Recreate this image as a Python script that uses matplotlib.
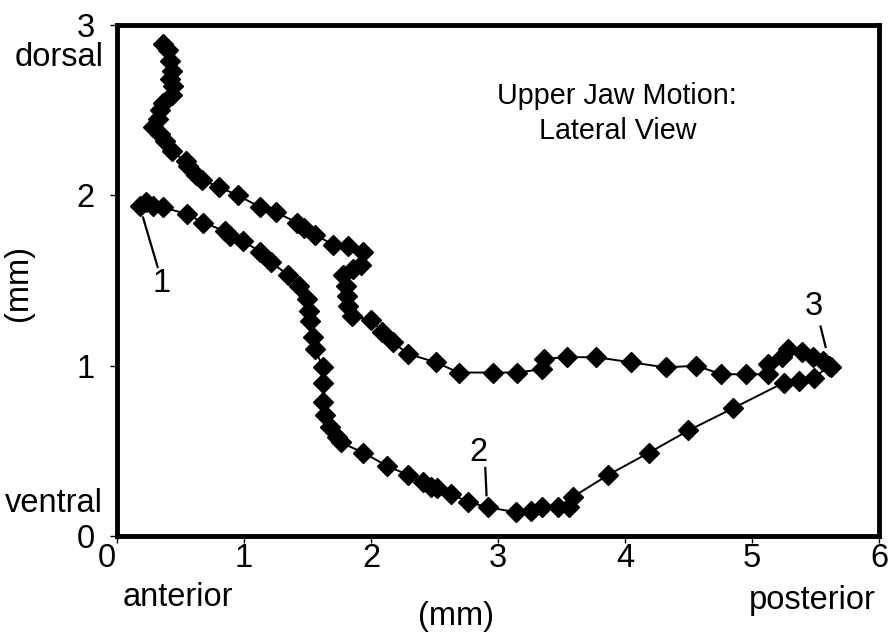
import matplotlib
matplotlib.use("Agg")
import matplotlib.pyplot as plt
import matplotlib.transforms as mtransforms

plt.rcParams['font.family'] = ['Liberation Sans', 'DejaVu Sans']

# Upper jaw trajectory (lateral view), in mm: opening stroke from 1 via 2 to 3,
# then the return stroke back up to the dorsal end.
jaw_x = [0.18, 0.23, 0.28, 0.36, 0.55, 0.68, 0.85, 0.89, 0.99, 1.13,
         1.21, 1.35, 1.43, 1.50, 1.51, 1.52, 1.54, 1.56, 1.62, 1.62,
         1.62, 1.64, 1.68, 1.73, 1.76, 1.94, 2.13, 2.29, 2.41, 2.47,
         2.52, 2.63, 2.76, 2.92, 3.14, 3.26, 3.35, 3.47, 3.56, 3.59,
         3.87, 4.19, 4.50, 4.85, 5.25, 5.37, 5.49, 5.61,
         5.62, 5.56, 5.48, 5.39, 5.28, 5.24, 5.13, 5.13, 4.95, 4.76,
         4.56, 4.32, 4.05, 3.77, 3.54, 3.36, 3.35, 3.15, 2.96, 2.69,
         2.51, 2.29, 2.17, 2.09, 2.00, 1.85, 1.82, 1.81, 1.80, 1.78,
         1.86, 1.92, 1.94, 1.82, 1.70, 1.56, 1.47, 1.42, 1.25, 1.13,
         0.95, 0.80, 0.67, 0.62, 0.56, 0.54, 0.43, 0.38, 0.34, 0.28,
         0.32, 0.34, 0.36, 0.43, 0.44, 0.42, 0.43, 0.42, 0.40, 0.36]
jaw_y = [1.94, 1.96, 1.94, 1.93, 1.89, 1.84, 1.79, 1.76, 1.73, 1.67,
         1.61, 1.53, 1.47, 1.39, 1.32, 1.26, 1.17, 1.10, 0.99, 0.90,
         0.79, 0.71, 0.64, 0.58, 0.55, 0.49, 0.41, 0.36, 0.32, 0.29,
         0.28, 0.25, 0.20, 0.17, 0.14, 0.15, 0.17, 0.17, 0.17, 0.23,
         0.36, 0.49, 0.62, 0.75, 0.90, 0.91, 0.93, 1.00,
         0.99, 1.03, 1.05, 1.08, 1.10, 1.05, 1.01, 0.95, 0.95, 0.95,
         1.00, 0.99, 1.02, 1.05, 1.05, 1.04, 0.98, 0.96, 0.96, 0.96,
         1.02, 1.07, 1.14, 1.20, 1.27, 1.29, 1.35, 1.41, 1.47, 1.53,
         1.57, 1.59, 1.67, 1.70, 1.71, 1.77, 1.81, 1.84, 1.90, 1.93,
         2.00, 2.05, 2.09, 2.12, 2.17, 2.20, 2.26, 2.32, 2.36, 2.40,
         2.45, 2.50, 2.54, 2.59, 2.64, 2.68, 2.73, 2.79, 2.85, 2.89]

x_ticks = [0, 1, 2, 3, 4, 5, 6]
y_ticks = [0, 1, 2, 3]

# Numbered stages: label text, label centre, leader line ends
stage_labels = ["1", "2", "3"]
stage_label_x = [0.355, 2.85, 5.49]
stage_label_y = [1.48, 0.49, 1.35]
leader_x = [(0.205, 0.32), (2.90, 2.91), (5.54, 5.58)]
leader_y = [(1.87, 1.58), (0.40, 0.24), (1.23, 1.11)]

FS = 23.5

fig = plt.figure(figsize=(8.91, 6.39), dpi=100)
ax = fig.add_axes([0.1313, 0.161, 0.8552, 0.800])

ax.plot(jaw_x, jaw_y, color='black', linewidth=1.4, marker='D',
        markersize=10, markerfacecolor='black', markeredgecolor='black')

ax.set_xlim(0, 6)
ax.set_ylim(0, 3)
ax.set_xticks(x_ticks)
ax.set_yticks(y_ticks)
ax.tick_params(axis='both', direction='out', length=5, width=1,
               labelsize=FS)
ax.tick_params(axis='x', pad=0)
ax.tick_params(axis='y', pad=11)
for side in ['left', 'right', 'top', 'bottom']:
    ax.spines[side].set_linewidth(3.5)

# the origin label on the x axis sits a little left of its tick
first_xlabel = ax.get_xticklabels()[0]
first_xlabel.set_transform(first_xlabel.get_transform() +
                           mtransforms.ScaledTranslation(-0.10, 0, fig.dpi_scale_trans))

for lab, tx, ty, lx, ly in zip(stage_labels, stage_label_x, stage_label_y,
                               leader_x, leader_y):
    ax.plot(lx, ly, color='black', linewidth=1.6)
    ax.text(tx, ty, lab, fontsize=FS, ha='center', va='center')

ax.text(3.94, 2.48, "Upper Jaw Motion:\nLateral View", fontsize=20.7,
        ha='center', va='center', linespacing=1.28)

# Direction words and axis units
fig.text(103 / 891, 1 - 58 / 639, "dorsal", fontsize=FS, ha='right', va='center')
fig.text(103 / 891, 1 - 504 / 639, "ventral", fontsize=FS, ha='right', va='center')
fig.text(19 / 891, 1 - 283 / 639, "(mm)", fontsize=FS, rotation=90,
         ha='center', va='center')
fig.text(178 / 891, 1 - 597 / 639, "anterior", fontsize=FS, ha='center', va='center')
fig.text(812 / 891, 1 - 600 / 639, "posterior", fontsize=FS, ha='center', va='center')
fig.text(456 / 891, 1 - 617 / 639, "(mm)", fontsize=FS, ha='center', va='center')

fig.savefig("out.png", dpi=100)
